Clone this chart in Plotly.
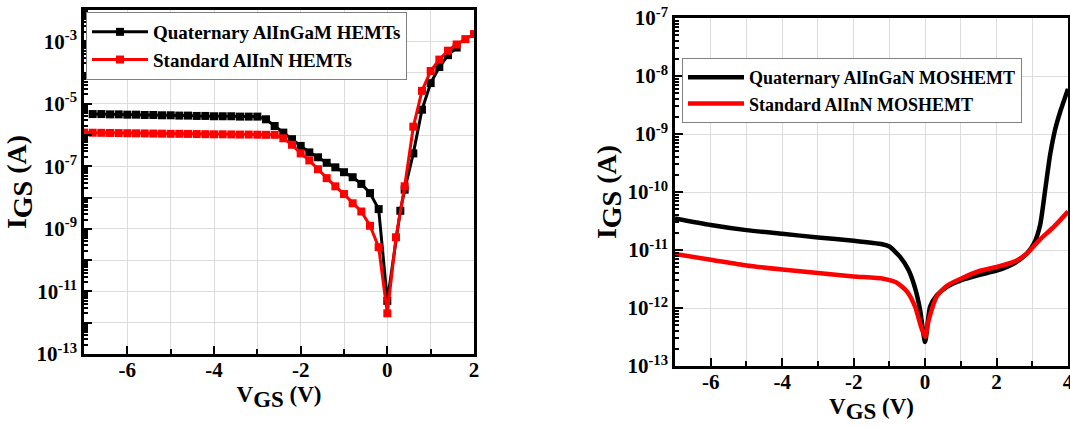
import plotly.graph_objects as go

# ---------------- Left panel: HEMTs (lines + square markers) ----------------
hemt_quat_v = [-6.8, -6.6, -6.4, -6.2, -6.0, -5.8, -5.6, -5.4, -5.2, -5.0,
               -4.8, -4.6, -4.4, -4.2, -4.0, -3.8, -3.6, -3.4, -3.2, -3.0,
               -2.8, -2.6, -2.4, -2.2, -2.0, -1.8, -1.6, -1.4, -1.2, -1.0,
               -0.8, -0.6, -0.4, -0.2, 0.0, 0.3, 0.4, 0.6, 0.8, 1.0, 1.2, 1.4, 1.6]
hemt_quat_i = [4.7e-6, 4.7e-6, 4.6e-6, 4.6e-6, 4.5e-6, 4.5e-6, 4.4e-6, 4.4e-6, 4.3e-6, 4.3e-6,
               4.2e-6, 4.2e-6, 4.1e-6, 4.1e-6, 4.0e-6, 4.0e-6, 4.0e-6, 3.9e-6, 3.9e-6, 3.9e-6,
               3.2e-6, 1.95e-6, 1.2e-6, 7.4e-7, 4.5e-7, 2.8e-7, 1.95e-7, 1.3e-7, 9.3e-8, 6.5e-8,
               4.5e-8, 2.75e-8, 1.4e-8, 4.3e-9, 5.0e-12, 3.8e-9, 1.8e-8, 2.6e-7, 6.5e-6, 4.6e-5,
               1.5e-4, 3.6e-4, 6.3e-4]

hemt_std_v = [-7.0, -6.8, -6.6, -6.4, -6.2, -6.0, -5.8, -5.6, -5.4, -5.2, -5.0,
              -4.8, -4.6, -4.4, -4.2, -4.0, -3.8, -3.6, -3.4, -3.2, -3.0,
              -2.8, -2.6, -2.4, -2.2, -2.0, -1.8, -1.6, -1.4, -1.2, -1.0,
              -0.8, -0.6, -0.4, -0.2, 0.0, 0.2, 0.4, 0.6, 0.8, 1.0, 1.2, 1.4, 1.6, 1.8, 2.0]
hemt_std_i = [1.20e-6, 1.19e-6, 1.18e-6, 1.17e-6, 1.16e-6, 1.15e-6, 1.14e-6, 1.13e-6, 1.12e-6, 1.11e-6, 1.10e-6,
              1.10e-6, 1.09e-6, 1.08e-6, 1.07e-6, 1.06e-6, 1.06e-6, 1.05e-6, 1.04e-6, 1.04e-6, 1.03e-6,
              1.02e-6, 1.02e-6, 7.9e-7, 4.9e-7, 2.6e-7, 1.55e-7, 8.1e-8, 4.2e-8, 2.3e-8, 1.3e-8,
              6.6e-9, 3.6e-9, 1.26e-9, 2.6e-10, 2.0e-12, 5.4e-10, 2.3e-8, 1.86e-6, 2.6e-5, 1.12e-4,
              2.6e-4, 5.0e-4, 7.9e-4, 1.17e-3, 1.7e-3]

# ---------------- Right panel: MOSHEMTs (smooth lines) ----------------
mos_quat_v = [-7.0, -6.0, -5.0, -4.0, -3.0, -2.0, -1.2, -1.0, -0.7, -0.47, -0.28, -0.14, 0.0,
              0.14, 0.33, 0.6, 1.0, 1.5, 2.0, 2.5, 2.85, 3.05, 3.22, 3.36, 3.5, 3.64, 3.78, 4.0]
mos_quat_i = [3.5e-11, 2.7e-11, 2.2e-11, 1.9e-11, 1.65e-11, 1.45e-11, 1.26e-11, 1.15e-11, 7.6e-12,
              4.6e-12, 2.2e-12, 9.3e-13, 2.6e-13, 1.05e-12, 1.66e-12, 2.3e-12, 3.0e-12, 3.7e-12,
              4.4e-12, 5.9e-12, 8.7e-12, 1.3e-11, 2.7e-11, 1.07e-10, 4.4e-10, 1.2e-9, 2.4e-9, 6.0e-9]

mos_std_v = [-7.0, -6.0, -5.0, -4.0, -3.0, -2.0, -1.17, -0.8, -0.5, -0.28, -0.1, 0.0, 0.1,
             0.33, 0.6, 1.0, 1.5, 2.0, 2.5, 2.85, 3.2, 3.6, 4.0]
mos_std_i = [8.5e-12, 6.8e-12, 5.4e-12, 4.6e-12, 4.0e-12, 3.5e-12, 3.2e-12, 2.75e-12, 1.9e-12,
             1.05e-12, 4.5e-13, 3.2e-13, 6.2e-13, 1.6e-12, 2.4e-12, 3.2e-12, 4.3e-12, 5.1e-12,
             6.3e-12, 8.7e-12, 1.48e-11, 2.5e-11, 4.6e-11]

# ---------------- Tick labels ----------------
x_ticks_left = [-6, -4, -2, 0, 2]
x_ticks_right = [-6, -4, -2, 0, 2, 4]
x_minor_left = [-7, -5, -3, -1, 1]
x_minor_right = [-7, -5, -3, -1, 1, 3]
y_decades_left = [-13, -12, -11, -10, -9, -8, -7, -6, -5, -4, -3, -2]
y_labeled_left = [-13, -11, -9, -7, -5, -3]
y_decades_right = [-13, -12, -11, -10, -9, -8, -7]

FONT = "Liberation Serif, Times New Roman, serif"
GRID = "#dcdcdc"

def log_ticks(decades, labeled):
    vals = [10.0 ** d for d in decades]
    text = [("10<sup>%d</sup>" % d) if d in labeled else " " for d in decades]
    return vals, text

def minor_log(decades):
    out = []
    for d in decades[:-1]:
        for m in range(2, 10):
            out.append(m * 10.0 ** d)
    return out

fig = go.Figure()

fig.add_trace(go.Scatter(x=hemt_quat_v, y=hemt_quat_i, mode="lines+markers",
                         name="Quaternary AlInGaM HEMTs",
                         line=dict(color="black", width=3),
                         marker=dict(symbol="square", size=8, color="black"),
                         xaxis="x", yaxis="y", legend="legend"))
fig.add_trace(go.Scatter(x=hemt_std_v, y=hemt_std_i, mode="lines+markers",
                         name="Standard AlInN HEMTs",
                         line=dict(color="#ff0000", width=3),
                         marker=dict(symbol="square", size=8, color="#ff0000"),
                         xaxis="x", yaxis="y", legend="legend"))
fig.add_trace(go.Scatter(x=mos_quat_v, y=mos_quat_i, mode="lines",
                         name="Quaternary AlInGaN MOSHEMT",
                         line=dict(color="black", width=4.5, shape="spline", smoothing=0.6),
                         xaxis="x2", yaxis="y2", legend="legend2"))
fig.add_trace(go.Scatter(x=mos_std_v, y=mos_std_i, mode="lines",
                         name="Standard AlInN MOSHEMT",
                         line=dict(color="#ff0000", width=4.5, shape="spline", smoothing=0.6),
                         xaxis="x2", yaxis="y2", legend="legend2"))

tickfont = dict(family=FONT, size=21, color="black", weight="bold")
titlefont_y = dict(family=FONT, size=28, color="black", weight="bold")
titlefont_x = dict(family=FONT, size=23, color="black", weight="bold")
X_TITLE = "V<sub><span style='font-size:23px'>GS</span></sub> (V)"
Y_TITLE = "I<sub><span style='font-size:28px'>GS</span></sub> (A)"

common_axis = dict(showline=True, linewidth=2.5, linecolor="black", mirror=True,
                   ticks="inside", ticklen=8, tickwidth=2, tickcolor="black",
                   showgrid=True, gridcolor=GRID, gridwidth=1, zeroline=False,
                   tickfont=tickfont, automargin=False, ticklabeloverflow="allow")

ylv, ylt = log_ticks(y_decades_left, y_labeled_left)
yrv, yrt = log_ticks(y_decades_right, y_decades_right)

fig.update_layout(
    width=1070, height=429,
    margin=dict(l=0, r=0, t=0, b=0, pad=0, autoexpand=False),
    paper_bgcolor="white", plot_bgcolor="white",
    showlegend=True,
    xaxis=dict(domain=[84 / 1070, 474 / 1070], range=[-7, 2], anchor="y",
               tickmode="array", tickvals=x_ticks_left,
               ticktext=[str(v) for v in x_ticks_left], ticklabelstandoff=-5,
               minor=dict(tickmode="array", tickvals=x_minor_left, ticks="inside",
                          ticklen=5, tickwidth=2, tickcolor="black",
                          showgrid=True, gridcolor=GRID),
               title=dict(text=X_TITLE, font=titlefont_x, standoff=4),
               **common_axis),
    yaxis=dict(domain=[1 - 354 / 429, 1 - 10 / 429], type="log", range=[-13, -2], anchor="x",
               tickmode="array", tickvals=ylv, ticktext=ylt,
               minor=dict(tickmode="array", tickvals=minor_log(y_decades_left), ticks="inside",
                          ticklen=4, tickwidth=1.5, tickcolor="black", showgrid=False),
               title=dict(text=Y_TITLE, font=titlefont_y, standoff=2),
               **common_axis),
    xaxis2=dict(domain=[675 / 1070, 1068 / 1070], range=[-7, 4], anchor="y2",
                tickmode="array", tickvals=x_ticks_right,
                ticktext=[str(v) for v in x_ticks_right], ticklabelstandoff=-5,
                minor=dict(tickmode="array", tickvals=x_minor_right, ticks="inside",
                           ticklen=5, tickwidth=2, tickcolor="black",
                           showgrid=True, gridcolor=GRID),
                title=dict(text=X_TITLE, font=titlefont_x, standoff=4),
                **common_axis),
    yaxis2=dict(domain=[1 - 366 / 429, 1 - 18 / 429], type="log", range=[-13, -7], anchor="x2",
                tickmode="array", tickvals=yrv, ticktext=yrt,
                minor=dict(tickmode="array", tickvals=minor_log(y_decades_right), ticks="inside",
                           ticklen=4, tickwidth=1.5, tickcolor="black", showgrid=False),
                title=dict(text=Y_TITLE, font=titlefont_y, standoff=0),
                **common_axis),
    legend=dict(x=86 / 1070, y=1 - 12 / 429, xanchor="left", yanchor="top",
                bgcolor="white", bordercolor="#808080", borderwidth=1,
                font=dict(family=FONT, size=19, color="black", weight="bold"),
                tracegroupgap=0, itemwidth=56),
    legend2=dict(x=682 / 1070, y=1 - 58 / 429, xanchor="left", yanchor="top",
                 bgcolor="white", bordercolor="#808080", borderwidth=1,
                 font=dict(family=FONT, size=18, color="black", weight="bold"),
                 tracegroupgap=0, itemwidth=56),
)

fig.write_html("out.html", config={"displayModeBar": False},
               post_script="document.body.style.margin='0px';")
